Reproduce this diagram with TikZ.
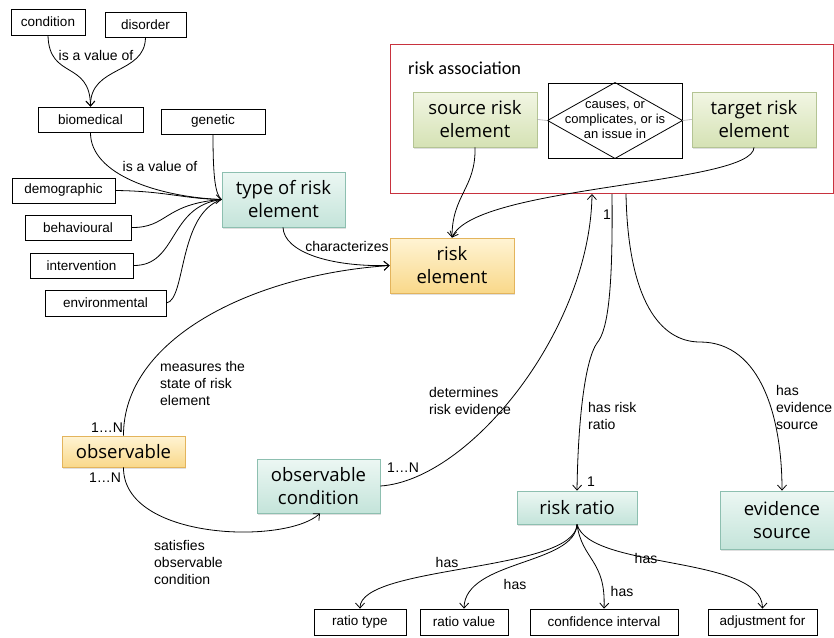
\documentclass[tikz,border=0pt]{standalone}
\usepackage{fontspec}
\setmainfont{Liberation Sans}
\newfontfamily\boxfont{Open Sans}
\newfontfamily\assocfont{Carlito}
\usetikzlibrary{arrows.meta,shadows}
\definecolor{tealT}{HTML}{ECF7F3}
\definecolor{tealBo}{HTML}{C4E4DA}
\definecolor{tealD}{HTML}{8DBFB0}
\definecolor{orT}{HTML}{FFF4D4}
\definecolor{orBo}{HTML}{F9D88A}
\definecolor{orD}{HTML}{E3B45C}
\definecolor{grT}{HTML}{F2F6E4}
\definecolor{grBo}{HTML}{D5E2B4}
\definecolor{grD}{HTML}{B4C494}
\definecolor{assocred}{HTML}{C8323E}
\begin{document}
\begin{tikzpicture}[x=1pt,y=-1pt,
  plain/.style={draw=black, line width=0.8pt, fill=white, inner sep=0pt,
    minimum height=25pt, font=\fontsize{13.5}{16}\selectfont},
  bigbox/.style={line width=0.8pt, inner sep=0pt, align=center,
    font=\boxfont\fontsize{18.5}{23}\selectfont,
    drop shadow={shadow xshift=1.2pt,shadow yshift=-1.5pt,opacity=0.25}},
  tealbox/.style={bigbox, draw=tealD, top color=tealT, bottom color=tealBo},
  orbox/.style={bigbox, draw=orD, top color=orT, bottom color=orBo},
  grbox/.style={bigbox, draw=grD, top color=grT, bottom color=grBo},
  lbl/.style={font=\fontsize{14}{17}\selectfont, inner sep=0pt, align=left},
  conn/.style={line width=0.8pt, -{Straight Barb[length=5pt,width=9pt]}},
  line/.style={line width=0.8pt},
]
\clip (0,0) rectangle (834,637);
\useasboundingbox (0,0) rectangle (834,637);

% risk association frame
\node[draw=assocred, line width=0.9pt, minimum width=443pt, minimum height=149pt, inner sep=0pt] (assoc) at (611.5,118.5) {};
\node[anchor=west, inner sep=0pt, font=\assocfont\fontsize{18.3}{22}\selectfont] (assoctitle) at (408,68) {risk association};

% small plain boxes
\node[plain, minimum width=74pt, minimum height=26pt] (condition) at (48,22) {condition};
\node[plain, minimum width=81pt] (disorder) at (145.5,24.5) {disorder};
\node[plain, minimum width=105pt] (biomedical) at (90.5,119.5) {biomedical};
\node[plain, minimum width=104pt] (genetic) at (213,121.5) {genetic};
\node[plain, minimum width=103pt] (demographic) at (63.5,190.5) {demographic};
\node[plain, minimum width=106pt] (behavioural) at (78,227.5) {behavioural};
\node[plain, minimum width=103pt] (intervention) at (81.5,265.5) {intervention};
\node[plain, minimum width=121pt, minimum height=26pt] (environmental) at (105.5,303) {environmental};
\node[plain, minimum width=92pt, minimum height=26pt] (rtype) at (360,622) {ratio type};
\node[plain, minimum width=88pt, minimum height=26pt] (rvalue) at (464,622) {ratio value};
\node[plain, minimum width=148pt, minimum height=26pt] (cinterval) at (604,622) {confidence interval};
\node[plain, minimum width=109pt, minimum height=26pt] (adjust) at (762.5,622) {adjustment for};

% big boxes
\node[tealbox, minimum width=123pt, minimum height=55pt] (type) at (283.5,199.5) {type of risk\\element};
\node[orbox, minimum width=124pt, minimum height=55pt] (riskel) at (452,265.5) {risk\\element};
\node[grbox, minimum width=124pt, minimum height=55pt] (source) at (475,119.5) {source risk\\element};
\node[grbox, minimum width=124pt, minimum height=55pt] (target) at (754,119.5) {target risk\\element};
\node[orbox, minimum width=123pt, minimum height=31pt] (observable) at (123.5,451.5) {observable};
\node[tealbox, minimum width=123pt, minimum height=54pt] (obscond) at (318.5,486) {observable\\condition};
\node[tealbox, minimum width=120pt, minimum height=33pt] (riskratio) at (577,507.5) {risk ratio};
\node[tealbox, minimum width=124pt, minimum height=58pt] (evsource) at (782,520) {evidence\\source};

% relation box with diamond
\node[draw=black, line width=0.9pt, fill=white, minimum width=134pt, minimum height=75pt, inner sep=0pt,
  align=center, font=\fontsize{13}{15}\selectfont] (relbox) at (615,120.5) {causes, or\\complicates, or is\\an issue in};
\draw[line width=0.8pt] (relbox.west) -- (relbox.north) -- (relbox.east) -- (relbox.south) -- cycle;
\draw[gray!70, line width=0.6pt] (source.east) -- (relbox.west);
\draw[gray!70, line width=0.6pt] (relbox.east) -- (target.west);

% connector end points on the association frame
\coordinate (aD) at (592,194);
\coordinate (aR) at (612,194);
\coordinate (aE) at (626,194);

% top-left tree
\draw[conn] (condition.south) .. controls (49,80) and (90,60) .. (biomedical.north);
\draw[conn] (disorder.south) .. controls (145,75) and (90,65) .. (biomedical.north);
\draw[conn] (biomedical.south) .. controls (90,175) and (160,197) .. (type.west);
\draw[line] (genetic.south) .. controls (213,175) and (215,195) .. (type.west);
\draw[line] (demographic.east) .. controls (165,191) and (185,199) .. (type.west);
\draw[line] (behavioural.east) .. controls (168,228) and (163,204) .. (type.west);
\draw[line] (intervention.east) .. controls (178,266) and (168,206) .. (type.west);
\draw[line] (environmental.east) .. controls (186,300) and (178,214) .. (type.west);

\node[lbl, fill=white] (lvalue1) at (96,55) {is a value of};
\node[lbl] (lvalue2) at (160,166) {is a value of};

% characterizes
\draw[conn] ([xshift=-0.5pt]type.south) .. controls (284,252) and (330,267) .. (riskel.west);
\node[lbl] (lchar) at (347,246) {characterizes};

% measures
\draw[conn] (observable.north) .. controls (123,340) and (250,275) .. (riskel.west);
\node[lbl, anchor=north west] (lmeas) at (160,361) {measures the\\state of risk\\element};
\node[lbl] (lm1) at (107,428) {1…N};
\node[lbl] (lm2) at (105,478) {1…N};

% satisfies
\draw[conn] (observable.south) .. controls (123,540) and (285,545) .. ([xshift=1.5pt]obscond.south);
\node[lbl, anchor=north west] (lsat) at (154,540) {satisfies\\observable\\condition};

% source/target -> risk element
\draw[conn] (source.south) .. controls (476,188) and (452,195) .. (riskel.north);
\draw[conn] (target.south) .. controls (753,185) and (475,185) .. (riskel.north);

% determines risk evidence
\draw[conn] (obscond.east) .. controls (470,480) and (590,330) .. (aD);
\node[lbl, anchor=north west] (ldet) at (429,387) {determines\\risk evidence};
\node[lbl] (ln3) at (403,468) {1…N};

% has risk ratio
\draw[conn] (aR) .. controls (613,290) and (608,330) .. (597,343)
  .. controls (585,360) and (578,420) .. (riskratio.north);
\node[lbl] (lone1) at (607,215) {1};
\node[lbl] (lone2) at (591,482) {1};
\node[lbl, anchor=north west] (lhrr) at (588,402) {has risk\\ratio};

% has evidence source
\draw[conn] (aE) .. controls (628,300) and (660,342) .. (700,342)
  .. controls (762,342) and (782,420) .. (evsource.north);
\node[lbl, anchor=north west] (lhes) at (776,385) {has\\evidence\\source};

% risk ratio children
\draw[conn] (riskratio.south) .. controls (575,572) and (360,565) .. (rtype.north);
\draw[conn] (riskratio.south) .. controls (575,565) and (465,560) .. (rvalue.north);
\draw[conn] (riskratio.south) .. controls (582,560) and (606,560) .. (cinterval.north);
\draw[conn] (riskratio.south) .. controls (590,570) and (762,555) .. (adjust.north);
\node[lbl] (lh1) at (447,562) {has};
\node[lbl] (lh2) at (515,584) {has};
\node[lbl] (lh3) at (622,591) {has};
\node[lbl] (lh4) at (646,558) {has};
\end{tikzpicture}
\end{document}
